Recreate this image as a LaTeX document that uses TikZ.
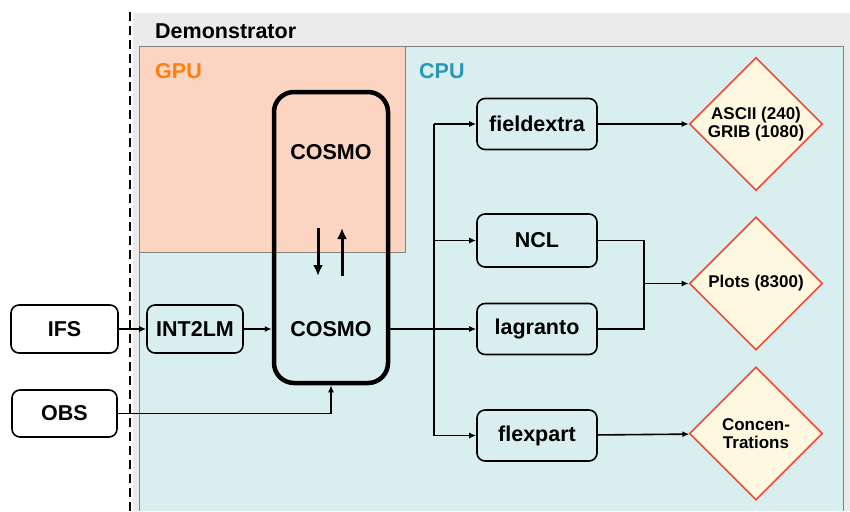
\documentclass[tikz,border=0pt]{standalone}
\usepackage{fontspec}
\setmainfont{Liberation Sans}
\usetikzlibrary{arrows.meta, shapes.geometric}

\definecolor{demogrey}{HTML}{EBEBEB}
\definecolor{gpusalmon}{HTML}{FBD5C1}
\definecolor{cpucyan}{HTML}{D9EEEF}
\definecolor{gpuorange}{HTML}{FF7F0E}
\definecolor{cpublue}{HTML}{2B97B8}
\definecolor{prodfill}{HTML}{FFF8E1}
\definecolor{prodred}{HTML}{F04A36}

\tikzset{
  boldtext/.style={font=\bfseries\fontsize{21.5}{24}\selectfont},
  tool/.style={draw, line width=1.6pt, rounded corners=8pt, inner sep=0pt, boldtext},
  product/.style={diamond, draw=prodred, fill=prodfill, line width=1.6pt, minimum width=133pt,
    minimum height=133pt, inner sep=0pt, align=center, font=\bfseries\fontsize{17}{18}\selectfont},
  link/.style={line width=1.6pt, -{Latex[length=7pt,width=6pt]}},
  swap/.style={line width=3pt, -{Latex[length=11pt,width=10pt]}}
}

\begin{document}
\begin{tikzpicture}[x=1pt, y=-1pt]
    \useasboundingbox (0,0) rectangle (850,511);

    % regions
    \fill[demogrey] (133,13) rectangle (850,511);
    \node[anchor=west, boldtext, inner sep=0pt] (demo) at (155,31) {Demonstrator};
    \fill[cpucyan] (139,46) rectangle (843,511);
    \draw[gray, line width=0.8pt] (139,511) -- (139,46) -- (843,46) -- (843,511);
    \filldraw[fill=gpusalmon, draw=gray, line width=0.8pt] (139,46) rectangle (405,252);
    \node[anchor=west, boldtext, text=gpuorange, inner sep=0pt] (gpu) at (155,71) {GPU};
    \node[anchor=west, boldtext, text=cpublue, inner sep=0pt] (cpu) at (419,71) {CPU};
    \draw[line width=2.4pt, dash pattern=on 9pt off 5pt] (130,12) -- (130,511);

    % COSMO
    \node[draw, line width=4.5pt, rounded corners=20pt, minimum width=114pt, minimum height=291pt] (cosmo) at (331,237.5) {};
    \node[boldtext] (cosmogpu) at (331,152) {COSMO};
    \node[boldtext] (cosmocpu) at (331,329) {COSMO};
    \coordinate (down) at (318,228);
    \coordinate (up) at (342,276);
    \draw[swap] (down) -- (down |- up);
    \draw[swap] (up) -- (up |- down);

    % inputs
    \node[tool, minimum width=107pt, minimum height=48pt] (ifs) at (64.5,329) {IFS};
    \node[tool, minimum width=105pt, minimum height=47pt] (obs) at (64.5,413.5) {OBS};
    \node[tool, minimum width=96pt, minimum height=48pt] (int2lm) at (195,329) {INT2LM};

    % post-processing
    \node[tool, minimum width=120pt, minimum height=51pt] (fieldextra) at (537,124) {fieldextra};
    \node[tool, minimum width=120pt, minimum height=53pt] (ncl) at (537,240.5) {NCL};
    \node[tool, minimum width=120pt, minimum height=51pt] (lagranto) at (537,329) {lagranto};
    \node[tool, minimum width=120pt, minimum height=51pt] (flexpart) at (537,435.5) {flexpart};

    \node[product] (grib) at (756,124) {ASCII (240)\\GRIB (1080)};
    \node[product] (plots) at (756,283.5) {Plots (8300)};
    \node[product] (conc) at (756,433.5) {Concen-\\Trations};

    % connectors
    \draw[link, line width=1.4pt] (ifs) -- (int2lm);
    \draw[link, line width=1.4pt] (int2lm) -- (int2lm -| cosmo.west);
    \draw[link, line width=1.4pt] (obs) -| (cosmo.south);

    \coordinate (split) at (434,329);
    \draw[link] (lagranto -| cosmo.east) -- (lagranto);
    \draw[line width=1.6pt] (split |- fieldextra) -- (split |- flexpart);
    \foreach \tgt in {fieldextra, ncl, flexpart}
        \draw[link] (split |- \tgt) -- (\tgt);

    \coordinate (join) at (644,283.5);
    \draw[line width=1.6pt] (ncl) -| (join) |- (lagranto);
    \draw[link] (join) -- (plots);
    \draw[link] (fieldextra) -- (grib);
    \draw[link] (flexpart) -- (conc);

\end{tikzpicture}
\end{document}
